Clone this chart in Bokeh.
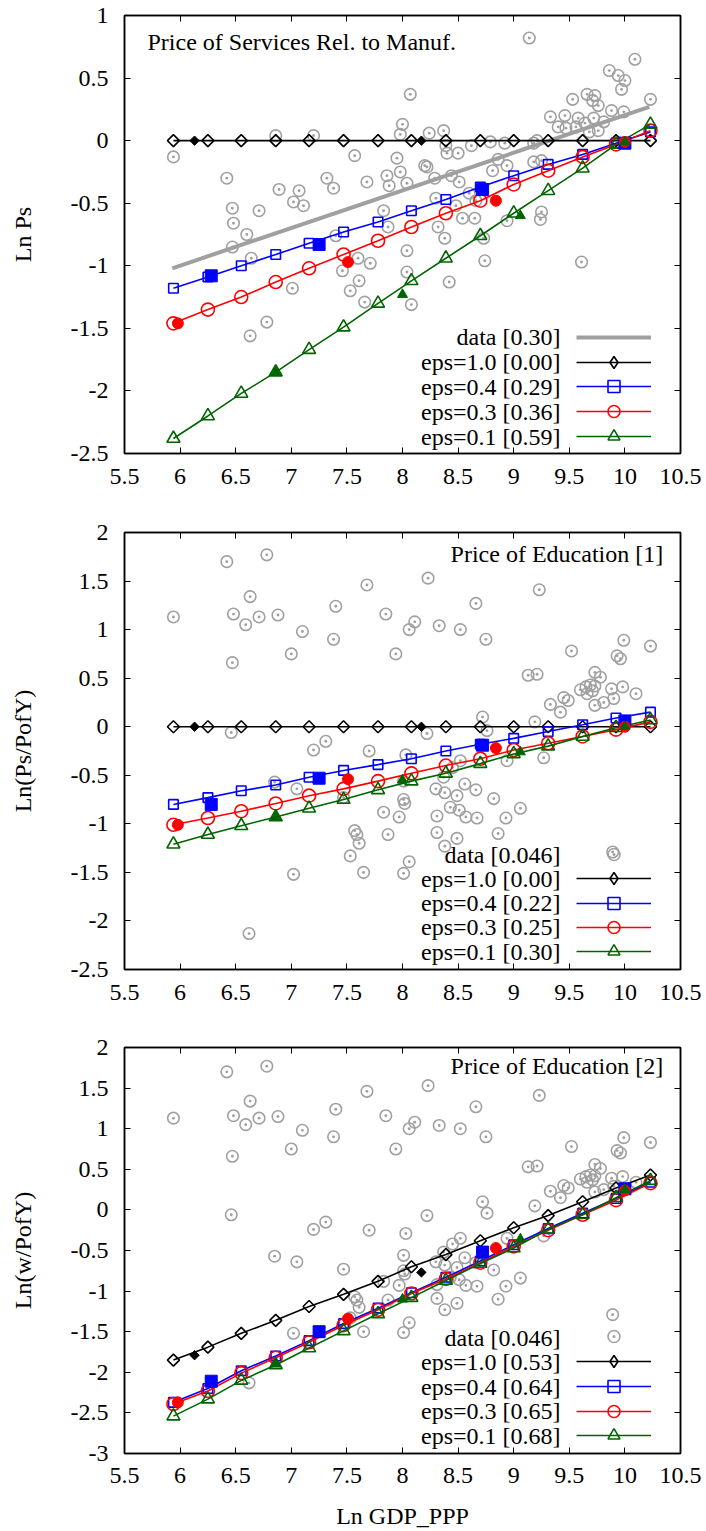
import numpy as np
from bokeh.plotting import figure
from bokeh.models import FixedTicker, LinearAxis, Range1d, Label, Legend, LegendItem
from bokeh.layouts import column
from bokeh.embed import file_html
from bokeh.resources import INLINE

# ------------------------------------------------------------------ data
x_ticks = [5.5, 6.0, 6.5, 7.0, 7.5, 8.0, 8.5, 9.0, 9.5, 10.0, 10.5]
x_tick_labels = ["5.5", "6", "6.5", "7", "7.5", "8", "8.5", "9", "9.5", "10", "10.5"]
y1_ticks = [-2.5, -2.0, -1.5, -1.0, -0.5, 0.0, 0.5, 1.0]
y1_tick_labels = ["-2.5", "-2", "-1.5", "-1", "-0.5", "0", "0.5", "1"]
y2_ticks = [-2.5, -2.0, -1.5, -1.0, -0.5, 0.0, 0.5, 1.0, 1.5, 2.0]
y2_tick_labels = ["-2.5", "-2", "-1.5", "-1", "-0.5", "0", "0.5", "1", "1.5", "2"]
y3_ticks = [-3.0, -2.5, -2.0, -1.5, -1.0, -0.5, 0.0, 0.5, 1.0, 1.5, 2.0]
y3_tick_labels = ["-3", "-2.5", "-2", "-1.5", "-1", "-0.5", "0", "0.5", "1", "1.5", "2"]

titles = ["Price of Services Rel. to Manuf.", "Price of Education [1]", "Price of Education [2]"]
y_titles = ["Ln Ps", "Ln(Ps/PofY)", "Ln(w/PofY)"]
x_title = "Ln GDP_PPP"
legend_p1 = ["data [0.30]", "eps=1.0 [0.00]", "eps=0.4 [0.29]", "eps=0.3 [0.36]", "eps=0.1 [0.59]"]
legend_p2 = ["data [0.046]", "eps=1.0 [0.00]", "eps=0.4 [0.22]", "eps=0.3 [0.25]", "eps=0.1 [0.30]"]
legend_p3 = ["data [0.046]", "eps=1.0 [0.53]", "eps=0.4 [0.64]", "eps=0.3 [0.65]", "eps=0.1 [0.68]"]

# model grid (Ln GDP_PPP)
model_x = [5.94, 6.25, 6.55, 6.86, 7.16, 7.47, 7.78, 8.08, 8.39, 8.70, 9.00, 9.31, 9.62, 9.92, 10.23]

# panel 1 : Ln Ps
p1_eps10 = [0.0, 0.0, 0.0, 0.0, 0.0, 0.0, 0.0, 0.0, 0.0, 0.0, 0.0, 0.0, 0.0, 0.0, 0.0]
p1_eps04 = [-1.18, -1.09, -1.00, -0.91, -0.82, -0.73, -0.65, -0.56, -0.47, -0.37, -0.28, -0.19, -0.11, -0.02, 0.07]
p1_eps03 = [-1.46, -1.35, -1.25, -1.13, -1.02, -0.91, -0.80, -0.69, -0.58, -0.48, -0.35, -0.24, -0.13, -0.03, 0.08]
p1_eps01 = [-2.38, -2.20, -2.02, -1.85, -1.67, -1.49, -1.30, -1.12, -0.94, -0.76, -0.58, -0.40, -0.22, -0.03, 0.13]

# panel 2 : Ln(Ps/PofY)
p2_eps10 = [0.0, 0.0, 0.0, 0.0, 0.0, 0.0, 0.0, 0.0, 0.0, 0.0, 0.0, 0.0, 0.0, 0.0, 0.0]
p2_eps04 = [-0.80, -0.73, -0.66, -0.60, -0.52, -0.45, -0.39, -0.33, -0.25, -0.18, -0.12, -0.05, 0.02, 0.09, 0.15]
p2_eps03 = [-1.01, -0.94, -0.87, -0.79, -0.71, -0.64, -0.56, -0.48, -0.40, -0.33, -0.24, -0.17, -0.10, -0.03, 0.05]
p2_eps01 = [-1.21, -1.11, -1.02, -0.93, -0.84, -0.75, -0.65, -0.56, -0.48, -0.38, -0.28, -0.20, -0.10, -0.01, 0.07]

# panel 3 : Ln(w/PofY)
p3_eps10 = [-1.85, -1.69, -1.52, -1.36, -1.19, -1.04, -0.88, -0.70, -0.55, -0.38, -0.22, -0.07, 0.10, 0.27, 0.43]
p3_eps04 = [-2.37, -2.20, -1.98, -1.80, -1.61, -1.40, -1.21, -1.02, -0.83, -0.63, -0.43, -0.23, -0.04, 0.14, 0.34]
p3_eps03 = [-2.39, -2.23, -2.01, -1.82, -1.63, -1.42, -1.23, -1.03, -0.85, -0.65, -0.45, -0.25, -0.06, 0.12, 0.33]
p3_eps01 = [-2.54, -2.33, -2.10, -1.91, -1.70, -1.49, -1.28, -1.08, -0.87, -0.66, -0.47, -0.24, -0.06, 0.15, 0.36]

# highlighted (filled) model points
fd_x = [6.13, 8.17]
fs_x = [6.28, 7.25, 8.72, 10.0]
fc_x = [5.98, 7.51, 8.84, 10.0]
ft_x = [6.86, 8.00, 9.06, 10.0]
p1_fd = [0.0, 0.0]
p1_fs = [-1.08, -0.83, -0.39, -0.02]
p1_fc = [-1.46, -0.97, -0.48, -0.01]
p1_ft = [-1.85, -1.23, -0.60, -0.01]
p2_fd = [0.0, 0.0]
p2_fs = [-0.80, -0.53, -0.19, 0.06]
p2_fc = [-1.01, -0.54, -0.22, 0.00]
p2_ft = [-0.93, -0.55, -0.26, 0.00]
p3_fd = [-1.79, -0.77]
p3_fs = [-2.11, -1.50, -0.52, 0.26]
p3_fc = [-2.37, -1.34, -0.47, 0.24]
p3_ft = [-1.90, -1.10, -0.36, 0.25]

# fitted data line, panel 1
fit_x = [5.93, 10.22]
fit_y = [-1.02, 0.27]

# country data, panel 1
p1_data_x = [8.07, 8.00, 7.98, 6.86, 7.20, 5.94, 7.57, 7.95, 7.98, 7.86, 6.42, 7.32, 7.38, 7.68, 7.88,
             8.04, 6.89, 7.07, 7.02, 7.11, 6.47, 6.71, 6.48, 7.83, 6.60, 7.87, 6.47, 7.40, 6.64, 7.60,
             7.71, 7.46, 8.04, 8.04, 7.61, 7.53, 7.66, 7.01, 8.08, 6.78, 6.63,
             9.14, 10.09, 9.86, 9.94, 10.00, 9.97, 10.23, 9.53, 9.66, 9.73, 9.71, 9.76, 9.88, 9.99, 9.33,
             9.46, 9.58, 9.64, 9.72, 9.81, 9.40, 9.47, 9.56, 9.68, 9.76, 8.37, 8.24, 8.39, 8.40, 8.50,
             8.62, 8.79, 8.92, 9.18, 9.21, 9.25, 9.18, 8.86, 8.94, 8.20, 8.22, 8.29, 8.44, 8.51, 8.81,
             8.60, 8.66, 8.30, 8.48, 8.54, 8.65, 8.32, 8.38, 8.73, 8.94, 9.25, 9.24, 8.74, 9.61, 8.42]
p1_data_y = [0.37, 0.13, 0.05, 0.04, 0.04, -0.13, -0.12, -0.14, -0.25, -0.28, -0.30, -0.30, -0.38, -0.33, -0.36,
             -0.34, -0.39, -0.40, -0.49, -0.52, -0.54, -0.56, -0.66, -0.56, -0.75, -0.69, -0.85, -0.76, -0.94, -0.94,
             -0.98, -1.04, -0.88, -1.05, -1.12, -1.20, -1.29, -1.18, -1.31, -1.45, -1.56,
             0.82, 0.65, 0.56, 0.52, 0.48, 0.41, 0.33, 0.33, 0.37, 0.36, 0.32, 0.28, 0.24, 0.23, 0.19,
             0.20, 0.18, 0.14, 0.18, 0.15, 0.11, 0.10, 0.11, 0.07, 0.08, 0.08, 0.06, -0.04, -0.10, -0.10,
             -0.04, -0.01, -0.02, -0.02, 0.00, -0.16, -0.17, -0.15, -0.20, -0.20, -0.21, -0.30, -0.28, -0.33, -0.24,
             -0.42, -0.48, -0.46, -0.52, -0.62, -0.62, -0.69, -0.78, -0.78, -0.64, -0.57, -0.63, -0.96, -0.97, -1.13]

# country data, panels 2 and 3
edu_data_x = [5.94, 6.42, 6.78, 6.63, 6.48, 6.71, 6.59, 6.88, 7.10, 7.00, 7.38, 7.40, 7.68, 7.85, 7.94,
              8.06, 8.11, 6.47, 6.46, 7.20, 7.31, 7.70, 8.03, 7.05, 7.47, 8.01, 8.01, 8.02, 7.97, 7.83,
              7.87, 7.57, 7.59, 7.61, 7.53, 7.65, 8.01, 8.06, 7.02, 6.62, 6.85,
              8.23, 9.23, 8.66, 8.33, 8.52, 8.75, 9.52, 9.99, 10.23, 9.93, 9.96, 9.13, 9.21, 9.73, 9.78,
              9.60, 9.65, 9.69, 9.73, 9.71, 9.66, 9.45, 9.49, 9.88, 9.98, 10.10, 9.81, 9.90, 9.73, 9.33,
              9.42, 8.72, 8.76, 9.19, 8.22, 9.27, 8.94, 8.52, 8.45, 8.37, 8.56, 8.66, 8.30, 8.38, 8.49,
              8.82, 8.43, 8.51, 8.31, 8.57, 8.67, 8.93, 9.06, 8.31, 8.86, 8.49, 8.38, 9.89]
edu_data_y = [1.13, 1.70, 1.77, 1.34, 1.16, 1.13, 1.05, 1.15, 0.98, 0.75, 0.90, 1.24, 1.46, 1.16, 0.75,
              1.00, 1.08, 0.66, -0.06, -0.24, -0.15, -0.25, -0.29, -0.64, -0.73, -0.56, -0.75, -0.79, -0.93, -0.88,
              -1.11, -1.07, -1.11, -1.20, -1.33, -1.50, -1.51, -1.39, -1.52, -2.13, -0.57,
              1.53, 1.41, 1.27, 1.04, 1.00, 0.90, 0.78, 0.89, 0.83, 0.73, 0.70, 0.53, 0.54, 0.56, 0.51,
              0.38, 0.41, 0.43, 0.42, 0.37, 0.34, 0.30, 0.27, 0.39, 0.41, 0.34, 0.25, 0.29, 0.22, 0.23,
              0.15, 0.10, -0.04, 0.05, -0.07, -0.32, -0.35, -0.35, -0.42, -0.52, -0.59, -0.65, -0.64, -0.68, -0.71,
              -0.74, -0.83, -0.86, -0.92, -0.93, -0.94, -0.94, -0.84, -1.09, -1.10, -1.15, -1.23, -1.29]

# ------------------------------------------------------------------ style
FONT = "Liberation Serif"
FS = "24px"
GRAY = "#a0a0a0"
BLUE = "#0000ff"
RED = "#ff0000"
GREEN = "#006400"
BLACK = "#000000"
LW = 1.6

W = 706
LEFT = 124
RIGHT = 26
FRAME_W = W - LEFT - RIGHT
X0, X1 = 5.5, 10.5


def xdata(X):
    return X0 + (X - LEFT) / FRAME_W * (X1 - X0)


def make_panel(height, btop, bbottom, ymin, ymax, yticks, ylabels, ytitle, page_top, show_xtitle=False,
               tick_standoff=15, xtitle_standoff=17):
    p = figure(width=W, height=height, output_backend="svg", toolbar_location=None,
               x_range=Range1d(X0, X1), y_range=Range1d(ymin, ymax),
               min_border_left=LEFT, min_border_right=RIGHT,
               min_border_top=btop, min_border_bottom=bbottom)
    p.xgrid.visible = False
    p.ygrid.visible = False
    p.outline_line_color = BLACK
    p.outline_line_width = 1.5
    p.background_fill_color = "white"
    p.border_fill_color = "white"

    xt = FixedTicker(ticks=x_ticks, minor_ticks=[])
    yt = FixedTicker(ticks=yticks, minor_ticks=[])
    xo = {v: s for v, s in zip(x_ticks, x_tick_labels)}
    yo = {v: s for v, s in zip(yticks, ylabels)}

    def style(ax, ticker, overrides, show):
        ax.ticker = ticker
        ax.major_label_overrides = overrides
        ax.major_tick_in = 6
        ax.major_tick_out = 0
        ax.minor_tick_in = 0
        ax.minor_tick_out = 0
        ax.axis_line_color = BLACK
        ax.axis_line_width = 1.5
        ax.major_tick_line_color = BLACK
        ax.major_tick_line_width = 1
        ax.major_label_text_font = FONT
        ax.major_label_text_color = BLACK
        ax.axis_label_text_font = FONT
        ax.axis_label_text_font_size = FS
        ax.axis_label_text_font_style = "normal"
        ax.axis_label_text_color = BLACK
        if show:
            ax.major_label_text_font_size = FS
        else:
            ax.major_label_text_font_size = "0px"
            ax.major_label_standoff = 0

    xa = p.xaxis[0]
    style(xa, xt, xo, True)
    xa.major_label_standoff = tick_standoff
    if show_xtitle:
        xa.axis_label = x_title
        xa.axis_label_standoff = xtitle_standoff
    ya = p.yaxis[0]
    style(ya, yt, yo, True)
    ya.major_label_standoff = 16
    ya.axis_label = ytitle
    ya.axis_label_standoff = 32

    ra = LinearAxis()
    style(ra, yt, yo, False)
    p.add_layout(ra, "right")
    ta = LinearAxis()
    style(ta, xt, xo, False)
    p.add_layout(ta, "above")

    frame_top = page_top + btop
    frame_h = height - btop - bbottom

    def ydata(Y):
        return ymax - (Y - frame_top) / frame_h * (ymax - ymin)

    return p, ydata, frame_top + frame_h


def add_models(p, e10, e04, e03, e01, fd, fs, fc, ft):
    l10 = p.line(model_x, e10, line_color=BLACK, line_width=LW)
    p.scatter(model_x, e10, marker="square", angle=np.pi / 4, size=8.5,
              line_color=BLACK, line_width=LW, fill_color=None)
    leg10 = p.scatter(model_x, e10, marker="diamond", size=12, line_color=BLACK,
                      line_width=LW, fill_color=None, visible=False)
    l04 = p.line(model_x, e04, line_color=BLUE, line_width=LW)
    s04 = p.scatter(model_x, e04, marker="square", size=9.5, line_color=BLUE,
                    line_width=LW, fill_color=None)
    l03 = p.line(model_x, e03, line_color=RED, line_width=LW)
    s03 = p.scatter(model_x, e03, marker="circle", size=13, line_color=RED,
                    line_width=LW, fill_color=None)
    l01 = p.line(model_x, e01, line_color=GREEN, line_width=LW)
    s01 = p.scatter(model_x, e01, marker="triangle", size=13, line_color=GREEN,
                    line_width=LW, fill_color=None)
    p.scatter(fd_x, fd, marker="square", angle=np.pi / 4, size=6.6, color=BLACK)
    p.scatter(fs_x, fs, marker="square", size=12, color=BLUE)
    p.scatter(fc_x, fc, marker="circle", size=11, color=RED)
    p.scatter(ft_x, ft, marker="triangle", size=10, color=GREEN)
    return [[l10, leg10], [l04, s04], [l03, s03], [l01, s01]]


def add_legend(p, data_rends, model_rends, texts, ydata, frame_bottom, first_row, pitch):
    gh = 30
    rows = [data_rends] + model_rends
    for i, (rends, t) in enumerate(zip(rows, texts)):
        yc = first_row + i * pitch
        leg = Legend(items=[LegendItem(label=" ", renderers=rends)],
                     location=(575.7 - LEFT, frame_bottom - (yc + gh / 2)),
                     orientation="vertical", glyph_width=75, glyph_height=gh, spacing=0,
                     padding=0, margin=0, label_standoff=0, label_width=0, label_height=8,
                     label_text_font_size="6px", label_text_color=None,
                     border_line_color=None, background_fill_alpha=0, click_policy="none")
        p.add_layout(leg)
        p.add_layout(Label(x=xdata(560), y=ydata(yc), text=t,
                           text_font=FONT, text_font_size=FS, text_align="right",
                           text_baseline="middle", text_color=BLACK))


def add_title(p, text, X, Y, align, ydata):
    p.add_layout(Label(x=xdata(X), y=ydata(Y), text=text, text_font=FONT, text_font_size=FS,
                       text_align=align, text_baseline="middle", text_color=BLACK))


# ---------------- panel 1
p1, yd1, fb1 = make_panel(500, 15, 47, -2.5, 1.0, y1_ticks, y1_tick_labels, y_titles[0], 0)
g1 = p1.scatter(p1_data_x, p1_data_y, marker="circle_dot", size=11.5, line_color=GRAY,
                line_width=1.6, fill_color=None)
f1 = p1.line(fit_x, fit_y, line_color=GRAY, line_width=4)
m1 = add_models(p1, p1_eps10, p1_eps04, p1_eps03, p1_eps01, p1_fd, p1_fs, p1_fc, p1_ft)
add_legend(p1, [f1], m1, legend_p1, yd1, fb1, 336.7, 24.85)
add_title(p1, titles[0], 147, 41.5, "left", yd1)

# ---------------- panel 2
p2, yd2, fb2 = make_panel(509, 32, 40, -2.5, 2.0, y2_ticks, y2_tick_labels, y_titles[1], 500)
g2 = p2.scatter(edu_data_x, edu_data_y, marker="circle_dot", size=11.5, line_color=GRAY,
                line_width=1.6, fill_color=None)
m2 = add_models(p2, p2_eps10, p2_eps04, p2_eps03, p2_eps01, p2_fd, p2_fs, p2_fc, p2_ft)
add_legend(p2, [g2], m2, legend_p2, yd2, fb2, 854, 24.25)
add_title(p2, titles[1], 662.7, 553, "right", yd2)

# ---------------- panel 3
p3, yd3, fb3 = make_panel(522, 38, 75, -3.0, 2.0, y3_ticks, y3_tick_labels, y_titles[2], 1009,
                          show_xtitle=True, tick_standoff=14, xtitle_standoff=17)
g3 = p3.scatter(edu_data_x, edu_data_y, marker="circle_dot", size=11.5, line_color=GRAY,
                line_width=1.6, fill_color=None)
m3 = add_models(p3, p3_eps10, p3_eps04, p3_eps03, p3_eps01, p3_fd, p3_fs, p3_fc, p3_ft)
add_legend(p3, [g3], m3, legend_p3, yd3, fb3, 1339.3, 24.75)
add_title(p3, titles[2], 662.7, 1065.3, "right", yd3)

layout = column(p1, p2, p3)
open("out.html", "w").write(file_html(layout, INLINE))
